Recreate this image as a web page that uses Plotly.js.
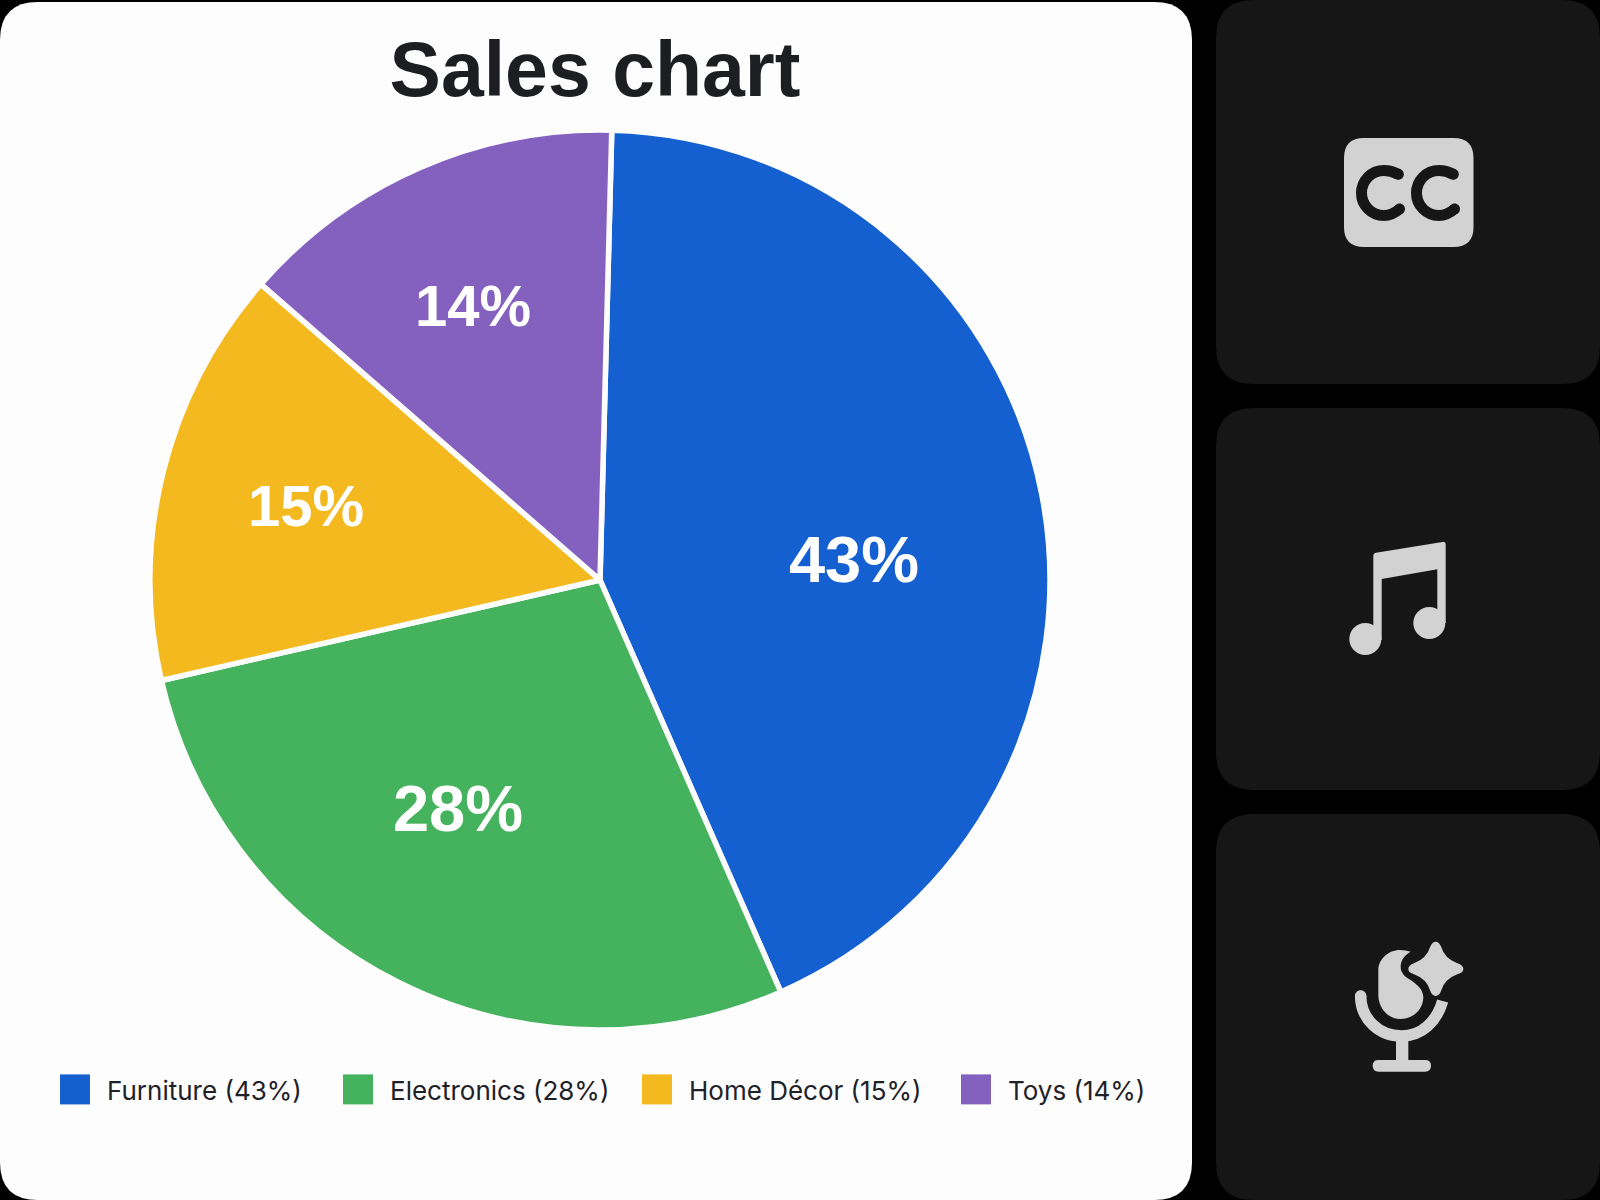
<!DOCTYPE html>
<html>
<head>
<meta charset="utf-8">
<script src="https://cdn.plot.ly/plotly-3.0.1.min.js"></script>
<style>html,body{margin:0;padding:0;background:#000;}#chart{width:1600px;height:1200px;}</style>
</head>
<body>
<div id="chart"></div>
<script>
const categories = ["Furniture", "Electronics", "Home Décor", "Toys"];
const shares = [43, 28, 15, 14];
const sliceColors = ["#1560d0", "#45b35d", "#f3b91f", "#8460bf"];
const chartTitle = "Sales chart";

const W = 1600, H = 1200;
const LIGHT = "#d2d2d2", CARD = "#161616";
// Layout tuning (px): label centres, label sizes, legend text starts.
const labelCentres = [[854, 559], [458, 808], [306, 505], [473, 305]];
const labelSizes = [65, 65, 58, 58];
const legendTextStarts = [107, 390, 689, 1008];
const LEGEND_X = 40, ITEM_W = 54;

// Path helpers: author icons in pixels, hand Plotly paper fractions.
function toPaper(d, ox = 0, oy = 0, k = 1) {
  let isX = true;
  return d.replace(/([MLQCZ])|(-?\d+(\.\d+)?)/g, (m, cmd) => {
    if (cmd) { isX = true; return cmd + " "; }
    const v = parseFloat(m) * k;
    const out = isX ? (v + ox) / W : 1 - (v + oy) / H;
    isX = !isX;
    return out.toFixed(6) + " ";
  });
}
function roundRect(x0, y0, x1, y1, r) {
  return `M${x0 + r},${y0} L${x1 - r},${y0} Q${x1},${y0} ${x1},${y0 + r} L${x1},${y1 - r} Q${x1},${y1} ${x1 - r},${y1} L${x0 + r},${y1} Q${x0},${y1} ${x0},${y1 - r} L${x0},${y0 + r} Q${x0},${y0} ${x0 + r},${y0} Z`;
}
function circle(cx, cy, r) {
  const c = r * 0.5523;
  return `M${cx - r},${cy} C${cx - r},${cy - c} ${cx - c},${cy - r} ${cx},${cy - r} C${cx + c},${cy - r} ${cx + r},${cy - c} ${cx + r},${cy} C${cx + r},${cy + c} ${cx + c},${cy + r} ${cx},${cy + r} C${cx - c},${cy + r} ${cx - r},${cy + c} ${cx - r},${cy} Z`;
}
const fill = (path, color) => ({type: "path", xref: "paper", yref: "paper", layer: "below", path, fillcolor: color, line: {width: 0}});
const stroke = (path, color, width) => ({type: "path", xref: "paper", yref: "paper", layer: "below", path, fillcolor: "rgba(0,0,0,0)", line: {color, width}});

const shapes = [
  fill(toPaper(roundRect(0, 2, 1192, 1200, 38)), "#fdfdfd"),
  fill(toPaper(roundRect(1216, 0, 1600, 384, 38)), CARD),
  fill(toPaper(roundRect(1216, 408, 1600, 790, 38)), CARD),
  fill(toPaper(roundRect(1216, 814, 1600, 1200, 38)), CARD),
  // CC icon
  fill(toPaper(roundRect(1344, 138, 1473.5, 247, 20)), LIGHT)
];
[0, 55].forEach(dx => {
  const arc = `M${1398.3 + dx},174.3 C${1393 + dx},171.5 ${1389 + dx},170.5 ${1384 + dx},170.5 C${1371 + dx},170.5 ${1361.5 + dx},181 ${1361.5 + dx},193 C${1361.5 + dx},205 ${1371 + dx},215.5 ${1384 + dx},215.5 C${1390 + dx},215.5 ${1395 + dx},213 ${1399.5 + dx},209`;
  shapes.push(stroke(toPaper(arc), CARD, 11));
  shapes.push(fill(toPaper(circle(1398.3 + dx, 174.3, 5.5)), CARD));
  shapes.push(fill(toPaper(circle(1399.5 + dx, 209, 5.5)), CARD));
});
// Music note icon
shapes.push(fill(toPaper("M1373.3,556 Q1373.3,553.3 1376,552.8 L1442.5,541.9 Q1445.7,541.5 1445.7,545 L1445.7,623 L1437.3,623 L1437.3,569.3 L1381.7,579 L1381.7,640 L1373.3,640 Z"), LIGHT));
shapes.push(fill(toPaper(circle(1429.3, 623, 16)), LIGHT));
shapes.push(fill(toPaper(circle(1365.3, 639, 16)), LIGHT));
// Microphone icon (drawn in 3x units from its crop origin)
const mic = (d) => toPaper(d, 1320, 920, 1 / 3);
shapes.push(fill(mic("M272,95 Q258,90 240,90 C205,90 175,118 175,150 L175,225 C175,265 205,297 240,297 C280,297 310,268 310,232 C310,212 295,195 272,180 C250,168 242,155 242,140 C242,120 255,104 272,95 Z"), LIGHT));
shapes.push(stroke(mic("M122,228 C122,295 175,348 245,348 C305,348 350,305 368,243"), LIGHT, 11.5));
shapes.push(fill(toPaper(circle(1320 + 122 / 3, 920 + 228 / 3, 5.75)), LIGHT));
shapes.push(fill(mic("M228,355 L265,355 L265,430 L228,430 Z"), LIGHT));
shapes.push(fill(toPaper(roundRect(1320 + 158 / 3, 920 + 420 / 3, 1320 + 333 / 3, 920 + 455 / 3, 5.8)), LIGHT));
shapes.push(fill(mic("M347,65 Q358,65 364,82 Q374,116 412,130 Q430,136 430,147 Q430,158 412,163 Q374,177 364,211 Q358,228 347,228 Q336,228 330,211 Q320,177 282,163 Q265,158 265,147 Q265,136 282,130 Q320,116 330,82 Q336,65 347,65 Z"), LIGHT));

const trace = {
  type: "pie",
  labels: categories.map((c, i) => `${c} (${shares[i]}%)`),
  values: shares,
  sort: false,
  direction: "clockwise",
  rotation: 1.5,
  marker: {colors: sliceColors, line: {color: "#fdfdfd", width: 5.5}},
  textinfo: "percent",
  texttemplate: "%{value}%",
  textposition: "inside",
  insidetextorientation: "horizontal",
  insidetextfont: {family: "'Liberation Sans', Arial, sans-serif", size: labelSizes, color: "#ffffff", weight: 700},
  hoverinfo: "label",
  domain: {x: [150 / W, 1050 / W], y: [1 - 1030 / H, 1 - 130 / H]}
};

const layout = {
  width: W, height: H,
  margin: {l: 0, r: 0, t: 0, b: 0, autoexpand: false},
  paper_bgcolor: "#000000",
  plot_bgcolor: "rgba(0,0,0,0)",
  title: {text: "<b>" + chartTitle + "</b>", x: 595 / W, xanchor: "center", y: 1 - 69 / H, yanchor: "middle", font: {family: "'Liberation Sans', Arial, sans-serif", size: 77, color: "#1d1e22"}},
  showlegend: true,
  legend: {
    orientation: "h", x: LEGEND_X / W, xanchor: "left", y: 1 - 1089.5 / H, yanchor: "middle",
    bgcolor: "rgba(0,0,0,0)", itemwidth: ITEM_W, traceorder: "normal",
    entrywidth: 225, entrywidthmode: "pixels",
    font: {family: "Inter, Roboto, sans-serif", size: 26, color: "#1e2128"}
  },
  shapes
};

Plotly.newPlot("chart", [trace], layout, {displayModeBar: false, staticPlot: true}).then(gd => {
  // Pie legend swatches have a fixed size in Plotly; enlarge to match the reference.
  gd.querySelectorAll(".legend .legendpoints path").forEach(p => {
    p.setAttribute("transform", (p.getAttribute("transform") || "") + " scale(2.5)");
    p.style.strokeWidth = 0;
  });
  // Reference's legend entries are unevenly spaced.
  gd.querySelectorAll(".legend .traces").forEach((g, i) => {
    const y = /translate\([^,]+,\s*([^)]+)\)/.exec(g.getAttribute("transform"))[1];
    g.setAttribute("transform", `translate(${legendTextStarts[i] - LEGEND_X - ITEM_W - 10},${y})`);
  });
  // Move each library-drawn percent label onto the reference's label centre.
  gd.querySelectorAll(".pielayer .slice").forEach((s, i) => {
    const t = s.querySelector("text.slicetext") || s.querySelector(".slicetext");
    if (!t) return;
    const r = t.getBoundingClientRect();
    const dx = labelCentres[i][0] - (r.left + r.width / 2);
    const dy = labelCentres[i][1] - (r.top + r.height / 2);
    t.setAttribute("transform", `translate(${dx},${dy}) ` + (t.getAttribute("transform") || ""));
  });
});
</script>
</body>
</html>
